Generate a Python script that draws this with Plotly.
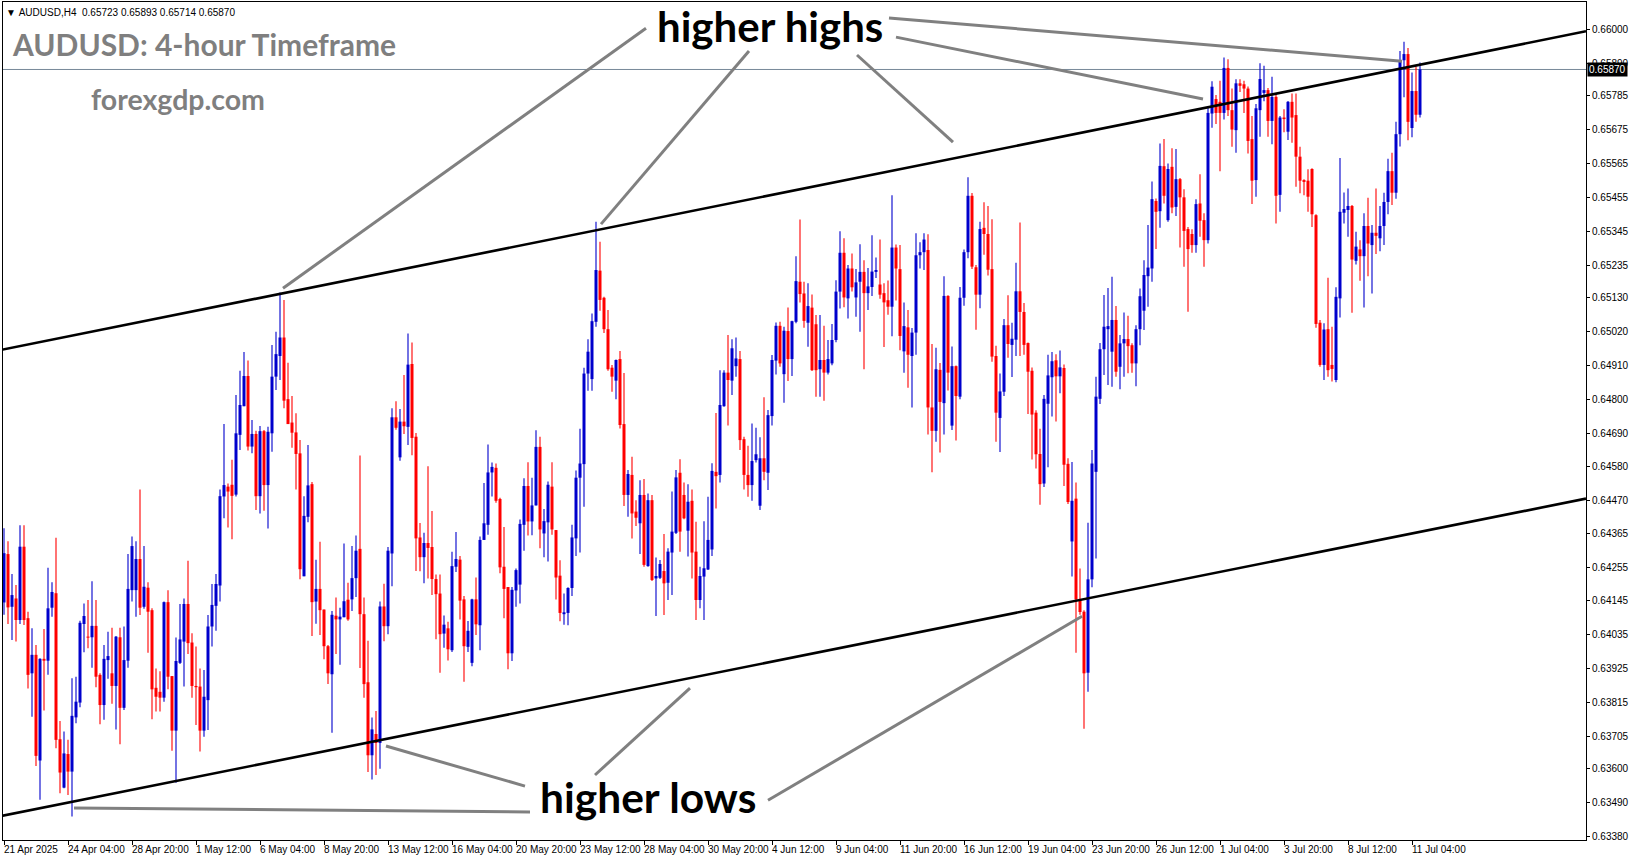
import plotly.graph_objects as go

# ---------------- data (AUDUSD H4 candles) ----------------
bar_open = [
    0.64140, 0.64297, 0.64126, 0.64153, 0.64083, 0.64321, 0.64089, 0.63910, 0.63970, 0.63627,
    0.63957, 0.63951, 0.64123, 0.64170, 0.63696, 0.63539, 0.63648, 0.63591, 0.63767, 0.63815,
    0.64070, 0.64029, 0.64027, 0.64064, 0.63905, 0.63807, 0.63953, 0.63910, 0.63869, 0.64027,
    0.63798, 0.63951, 0.64180, 0.64180, 0.64281, 0.64126, 0.64188, 0.64115, 0.63863, 0.63850,
    0.63831, 0.64141, 0.63901, 0.63724, 0.63944, 0.64013, 0.64135, 0.64010, 0.63869, 0.63867,
    0.63724, 0.63823, 0.64062, 0.64129, 0.64195, 0.64484, 0.64516, 0.64522, 0.64490, 0.64684,
    0.64777, 0.64875, 0.64646, 0.64687, 0.64485, 0.64696, 0.64521, 0.64689, 0.64873, 0.64940,
    0.65000, 0.64800, 0.64724, 0.64692, 0.64624, 0.64225, 0.64418, 0.64524, 0.64143, 0.64184,
    0.64117, 0.63998, 0.63907, 0.64097, 0.64085, 0.64092, 0.64149, 0.64150, 0.64219, 0.64314,
    0.64102, 0.63881, 0.63644, 0.63713, 0.63684, 0.64127, 0.64063, 0.64299, 0.64741, 0.64611,
    0.64727, 0.64710, 0.64914, 0.64678, 0.64351, 0.64287, 0.64333, 0.64320, 0.64216, 0.64169,
    0.64039, 0.64056, 0.63985, 0.64256, 0.64279, 0.64150, 0.63996, 0.63944, 0.64150, 0.64066,
    0.64343, 0.64392, 0.64562, 0.64577, 0.64476, 0.64256, 0.64190, 0.63975, 0.64179, 0.64198,
    0.64392, 0.64518, 0.64403, 0.64455, 0.64645, 0.64364, 0.64400, 0.64516, 0.64375, 0.64227,
    0.64102, 0.64106, 0.64187, 0.64348, 0.64545, 0.64589, 0.64883, 0.64865, 0.65051, 0.65217,
    0.65129, 0.65027, 0.64902, 0.64860, 0.64930, 0.64719, 0.64489, 0.64554, 0.64435, 0.64397,
    0.64489, 0.64258, 0.64472, 0.64218, 0.64220, 0.64242, 0.64204, 0.64302, 0.64366, 0.64561,
    0.64489, 0.64373, 0.64470, 0.64305, 0.64148, 0.64224, 0.64247, 0.64312, 0.64564, 0.64554,
    0.64777, 0.64886, 0.64860, 0.64907, 0.64930, 0.64670, 0.64554, 0.64521, 0.64602, 0.64454,
    0.64608, 0.64561, 0.64745, 0.64925, 0.65038, 0.64881, 0.65021, 0.64930, 0.65051, 0.65181,
    0.65143, 0.65048, 0.65097, 0.65043, 0.64897, 0.64927, 0.64886, 0.64916, 0.64992, 0.65149,
    0.65275, 0.65127, 0.65224, 0.65130, 0.65181, 0.65213, 0.65144, 0.65164, 0.65213, 0.65172,
    0.65144, 0.65121, 0.65100, 0.65292, 0.65222, 0.64955, 0.65033, 0.64940, 0.65016, 0.65267,
    0.65277, 0.65284, 0.64773, 0.64697, 0.64895, 0.64787, 0.65135, 0.64714, 0.64907, 0.64808,
    0.65129, 0.65277, 0.65460, 0.65228, 0.65139, 0.65356, 0.65336, 0.65222, 0.64940, 0.64739,
    0.64824, 0.65040, 0.64976, 0.64993, 0.65150, 0.65083, 0.64982, 0.64892, 0.64756, 0.64622,
    0.64526, 0.64785, 0.64871, 0.64926, 0.64874, 0.64901, 0.64590, 0.64338, 0.64477, 0.64147,
    0.64110, 0.63912, 0.64215, 0.64564, 0.64801, 0.64962, 0.65027, 0.64954, 0.65057, 0.64905,
    0.64981, 0.64995, 0.64975, 0.64916, 0.65027, 0.65087, 0.65199, 0.65224, 0.65443, 0.65410,
    0.65556, 0.65381, 0.65554, 0.65424, 0.65514, 0.65455, 0.65352, 0.65336, 0.65300, 0.65435,
    0.65381, 0.65316, 0.65727, 0.65774, 0.65765, 0.65729, 0.65875, 0.65738, 0.65673, 0.65825,
    0.65822, 0.65808, 0.65644, 0.65511, 0.65738, 0.65794, 0.65803, 0.65703, 0.65781, 0.65463,
    0.65714, 0.65668, 0.65765, 0.65722, 0.65587, 0.65511, 0.65509, 0.65547, 0.65397, 0.65048,
    0.64911, 0.65027, 0.64911, 0.64862, 0.65127, 0.65405, 0.65414, 0.65427, 0.65249, 0.65286,
    0.65264, 0.65362, 0.65300, 0.65340, 0.65322, 0.65362, 0.65440, 0.65540, 0.65470, 0.65660,
    0.65900, 0.65920, 0.65680, 0.65800, 0.65723,
]
bar_high = [
    0.64381, 0.64339, 0.64232, 0.64197, 0.64391, 0.64391, 0.64110, 0.64056, 0.64002, 0.63959,
    0.64054, 0.64253, 0.64206, 0.64350, 0.63755, 0.63721, 0.63694, 0.63894, 0.63899, 0.64081,
    0.64137, 0.64148, 0.64209, 0.64148, 0.63910, 0.64002, 0.64045, 0.64058, 0.64031, 0.64058,
    0.64062, 0.64297, 0.64354, 0.64339, 0.64507, 0.64323, 0.64206, 0.64121, 0.63926, 0.63917,
    0.64143, 0.64180, 0.63901, 0.64026, 0.64135, 0.64153, 0.64275, 0.64040, 0.63997, 0.63926,
    0.63921, 0.64099, 0.64200, 0.64232, 0.64507, 0.64719, 0.64526, 0.64603, 0.64813, 0.64892,
    0.64953, 0.64925, 0.64732, 0.64697, 0.64713, 0.64700, 0.64710, 0.64976, 0.65019, 0.65146,
    0.65122, 0.64918, 0.64810, 0.64754, 0.64667, 0.64485, 0.64651, 0.64531, 0.64279, 0.64337,
    0.64117, 0.64002, 0.64112, 0.64156, 0.64123, 0.64331, 0.64204, 0.64323, 0.64357, 0.64617,
    0.64156, 0.64016, 0.63767, 0.63788, 0.64143, 0.64201, 0.64320, 0.64770, 0.64793, 0.64768,
    0.64878, 0.65013, 0.64984, 0.64690, 0.64398, 0.64366, 0.64582, 0.64437, 0.64231, 0.64231,
    0.64098, 0.64077, 0.64305, 0.64369, 0.64291, 0.64161, 0.64080, 0.64152, 0.64221, 0.64354,
    0.64528, 0.64653, 0.64594, 0.64591, 0.64480, 0.64385, 0.64190, 0.64190, 0.64250, 0.64409,
    0.64543, 0.64595, 0.64545, 0.64699, 0.64678, 0.64443, 0.64533, 0.64595, 0.64375, 0.64277,
    0.64169, 0.64189, 0.64392, 0.64568, 0.64704, 0.64902, 0.64994, 0.65078, 0.65376, 0.65311,
    0.65132, 0.65089, 0.64911, 0.64929, 0.64956, 0.64885, 0.64570, 0.64613, 0.64472, 0.64537,
    0.64541, 0.64494, 0.64489, 0.64286, 0.64278, 0.64362, 0.64316, 0.64500, 0.64570, 0.64605,
    0.64529, 0.64524, 0.64507, 0.64402, 0.64256, 0.64404, 0.64483, 0.64592, 0.64755, 0.64894,
    0.64894, 0.65008, 0.64994, 0.65000, 0.64956, 0.64678, 0.64649, 0.64721, 0.64707, 0.64676,
    0.64806, 0.64765, 0.64943, 0.65049, 0.65051, 0.65035, 0.65097, 0.65054, 0.65264, 0.65383,
    0.65181, 0.65176, 0.65140, 0.65073, 0.65073, 0.65038, 0.64992, 0.65044, 0.65186, 0.65345,
    0.65322, 0.65235, 0.65273, 0.65222, 0.65303, 0.65251, 0.65226, 0.65332, 0.65260, 0.65318,
    0.65176, 0.65185, 0.65462, 0.65302, 0.65300, 0.65114, 0.65089, 0.65031, 0.65338, 0.65309,
    0.65338, 0.65335, 0.64979, 0.64967, 0.64917, 0.65199, 0.65137, 0.64971, 0.64909, 0.65164,
    0.65286, 0.65520, 0.65469, 0.65235, 0.65376, 0.65439, 0.65427, 0.65384, 0.64973, 0.64883,
    0.65060, 0.65137, 0.65048, 0.65243, 0.65373, 0.65112, 0.64984, 0.64903, 0.64764, 0.64704,
    0.64813, 0.64944, 0.64953, 0.64946, 0.64958, 0.64912, 0.64608, 0.64596, 0.64529, 0.64250,
    0.64115, 0.64399, 0.64635, 0.64873, 0.64982, 0.65138, 0.65161, 0.65197, 0.65102, 0.65008,
    0.65081, 0.65071, 0.64981, 0.65040, 0.65159, 0.65251, 0.65365, 0.65506, 0.65451, 0.65630,
    0.65644, 0.65565, 0.65614, 0.65612, 0.65518, 0.65481, 0.65359, 0.65351, 0.65449, 0.65530,
    0.65403, 0.65751, 0.65832, 0.65787, 0.65833, 0.65909, 0.65903, 0.65808, 0.65838, 0.65838,
    0.65833, 0.65815, 0.65719, 0.65758, 0.65890, 0.65882, 0.65810, 0.65846, 0.65792, 0.65719,
    0.65741, 0.65768, 0.65792, 0.65792, 0.65619, 0.65514, 0.65546, 0.65549, 0.65400, 0.65057,
    0.65046, 0.65194, 0.65035, 0.65163, 0.65583, 0.65471, 0.65484, 0.65430, 0.65343, 0.65316,
    0.65403, 0.65454, 0.65365, 0.65484, 0.65427, 0.65470, 0.65580, 0.65600, 0.65700, 0.65930,
    0.65960, 0.65940, 0.65860, 0.65880, 0.65893,
]
bar_low = [
    0.64100, 0.64070, 0.64018, 0.64013, 0.64070, 0.64067, 0.63861, 0.63769, 0.63609, 0.63500,
    0.63789, 0.63905, 0.64094, 0.63667, 0.63521, 0.63537, 0.63515, 0.63445, 0.63748, 0.63800,
    0.63978, 0.63991, 0.63928, 0.63865, 0.63745, 0.63759, 0.63892, 0.63811, 0.63728, 0.63680,
    0.63791, 0.63928, 0.64143, 0.64094, 0.64099, 0.64120, 0.63977, 0.63761, 0.63786, 0.63786,
    0.63818, 0.63858, 0.63659, 0.63555, 0.63940, 0.63867, 0.63973, 0.63831, 0.63742, 0.63656,
    0.63704, 0.63726, 0.63997, 0.64048, 0.64143, 0.64413, 0.64383, 0.64345, 0.64484, 0.64635,
    0.64777, 0.64633, 0.64624, 0.64440, 0.64429, 0.64438, 0.64380, 0.64629, 0.64830, 0.64862,
    0.64770, 0.64719, 0.64642, 0.64507, 0.64215, 0.64225, 0.64400, 0.64031, 0.64071, 0.64034,
    0.63956, 0.63875, 0.63717, 0.63973, 0.63938, 0.64092, 0.64081, 0.64112, 0.64158, 0.63927,
    0.63831, 0.63590, 0.63565, 0.63580, 0.63600, 0.64014, 0.64037, 0.64193, 0.64701, 0.64600,
    0.64687, 0.64651, 0.64618, 0.64242, 0.64241, 0.64202, 0.64218, 0.64164, 0.64021, 0.63912,
    0.63993, 0.63952, 0.63979, 0.64239, 0.64085, 0.63883, 0.63979, 0.63933, 0.64034, 0.63985,
    0.64343, 0.64360, 0.64484, 0.64464, 0.64235, 0.64089, 0.63923, 0.63950, 0.64126, 0.64137,
    0.64308, 0.64357, 0.64358, 0.64455, 0.64316, 0.64287, 0.64273, 0.64360, 0.64150, 0.64079,
    0.64068, 0.64066, 0.64161, 0.64291, 0.64302, 0.64451, 0.64827, 0.64827, 0.65035, 0.65087,
    0.65015, 0.64892, 0.64824, 0.64800, 0.64705, 0.64453, 0.64418, 0.64348, 0.64388, 0.64297,
    0.64256, 0.64256, 0.64210, 0.64096, 0.64216, 0.64099, 0.64148, 0.64164, 0.64362, 0.64305,
    0.64410, 0.64289, 0.64218, 0.64083, 0.64121, 0.64083, 0.64245, 0.64291, 0.64445, 0.64529,
    0.64775, 0.64714, 0.64813, 0.64873, 0.64635, 0.64507, 0.64483, 0.64470, 0.64594, 0.64440,
    0.64537, 0.64505, 0.64714, 0.64880, 0.64905, 0.64788, 0.64859, 0.64875, 0.65046, 0.65114,
    0.65032, 0.64970, 0.64891, 0.64808, 0.64808, 0.64795, 0.64880, 0.64910, 0.64985, 0.65094,
    0.65098, 0.65062, 0.65149, 0.65067, 0.65019, 0.64897, 0.65089, 0.65135, 0.65193, 0.65126,
    0.64969, 0.65074, 0.65004, 0.65120, 0.64959, 0.64886, 0.64837, 0.64773, 0.64944, 0.65224,
    0.65219, 0.64685, 0.64563, 0.64662, 0.64627, 0.64685, 0.64828, 0.64700, 0.64666, 0.64800,
    0.65103, 0.65257, 0.65222, 0.65025, 0.65095, 0.65269, 0.65201, 0.64921, 0.64662, 0.64628,
    0.64810, 0.64934, 0.64872, 0.64940, 0.64940, 0.64944, 0.64752, 0.64604, 0.64575, 0.64457,
    0.64515, 0.64579, 0.64744, 0.64727, 0.64819, 0.64518, 0.64460, 0.64224, 0.63977, 0.64100,
    0.63730, 0.63850, 0.64189, 0.64283, 0.64784, 0.64878, 0.64846, 0.64840, 0.64873, 0.64832,
    0.64873, 0.64884, 0.64886, 0.64842, 0.64975, 0.65024, 0.65100, 0.65181, 0.65287, 0.65356,
    0.65435, 0.65376, 0.65403, 0.65394, 0.65292, 0.65230, 0.65084, 0.65275, 0.65275, 0.65327,
    0.65230, 0.65305, 0.65681, 0.65693, 0.65540, 0.65708, 0.65719, 0.65619, 0.65600, 0.65797,
    0.65729, 0.65597, 0.65433, 0.65457, 0.65652, 0.65767, 0.65652, 0.65627, 0.65370, 0.65408,
    0.65666, 0.65641, 0.65632, 0.65489, 0.65468, 0.65462, 0.65408, 0.65359, 0.65032, 0.64905,
    0.64862, 0.64873, 0.64857, 0.64855, 0.65065, 0.65370, 0.65327, 0.65080, 0.65237, 0.65184,
    0.65097, 0.65199, 0.65143, 0.65271, 0.65280, 0.65300, 0.65400, 0.65430, 0.65450, 0.65620,
    0.65780, 0.65640, 0.65650, 0.65700, 0.65714,
]
bar_close = [
    0.64300, 0.64124, 0.64164, 0.64083, 0.64321, 0.64083, 0.63905, 0.63970, 0.63642, 0.63957,
    0.63951, 0.64121, 0.64174, 0.63694, 0.63588, 0.63650, 0.63591, 0.63772, 0.63818, 0.64074,
    0.64096, 0.64026, 0.64064, 0.63899, 0.63807, 0.63957, 0.63966, 0.63869, 0.64029, 0.63798,
    0.63953, 0.64184, 0.64323, 0.64281, 0.64123, 0.64191, 0.64110, 0.63858, 0.63834, 0.63831,
    0.64141, 0.63899, 0.63724, 0.63950, 0.64020, 0.64135, 0.64008, 0.63869, 0.63865, 0.63724,
    0.63834, 0.64062, 0.64132, 0.64200, 0.64485, 0.64521, 0.64500, 0.64486, 0.64689, 0.64781,
    0.64875, 0.64646, 0.64687, 0.64485, 0.64696, 0.64521, 0.64694, 0.64873, 0.64946, 0.65000,
    0.64795, 0.64719, 0.64691, 0.64622, 0.64248, 0.64421, 0.64520, 0.64141, 0.64184, 0.64115,
    0.63998, 0.63910, 0.64100, 0.64085, 0.64094, 0.64144, 0.64085, 0.64219, 0.64308, 0.64102,
    0.63875, 0.63644, 0.63728, 0.63684, 0.64127, 0.64063, 0.64308, 0.64741, 0.64707, 0.64727,
    0.64712, 0.64912, 0.64674, 0.64348, 0.64287, 0.64333, 0.64317, 0.64216, 0.64167, 0.64037,
    0.64068, 0.63988, 0.64258, 0.64281, 0.64146, 0.63998, 0.64048, 0.64150, 0.64069, 0.64343,
    0.64397, 0.64562, 0.64580, 0.64470, 0.64254, 0.64184, 0.63975, 0.64181, 0.64245, 0.64395,
    0.64518, 0.64403, 0.64455, 0.64645, 0.64377, 0.64404, 0.64522, 0.64377, 0.64221, 0.64106,
    0.64108, 0.64187, 0.64351, 0.64545, 0.64591, 0.64883, 0.64954, 0.65053, 0.65219, 0.65122,
    0.65027, 0.64897, 0.64873, 0.64927, 0.64716, 0.64489, 0.64557, 0.64429, 0.64415, 0.64489,
    0.64262, 0.64472, 0.64213, 0.64226, 0.64265, 0.64202, 0.64305, 0.64370, 0.64546, 0.64370,
    0.64413, 0.64467, 0.64302, 0.64148, 0.64226, 0.64251, 0.64343, 0.64567, 0.64550, 0.64781,
    0.64886, 0.64862, 0.64965, 0.64932, 0.64667, 0.64554, 0.64521, 0.64599, 0.64621, 0.64608,
    0.64564, 0.64748, 0.64927, 0.65038, 0.64916, 0.65022, 0.64930, 0.65053, 0.65183, 0.65141,
    0.65054, 0.65102, 0.64894, 0.64894, 0.64927, 0.64886, 0.64930, 0.64992, 0.65149, 0.65275,
    0.65130, 0.65224, 0.65163, 0.65179, 0.65213, 0.65144, 0.65166, 0.65214, 0.65219, 0.65139,
    0.65114, 0.65100, 0.65292, 0.65224, 0.65005, 0.65037, 0.64944, 0.65016, 0.65267, 0.65277,
    0.65318, 0.64773, 0.64697, 0.64897, 0.64791, 0.65135, 0.64886, 0.64907, 0.64810, 0.65129,
    0.65277, 0.65460, 0.65230, 0.65139, 0.65352, 0.65336, 0.65220, 0.64938, 0.64756, 0.64825,
    0.65040, 0.64979, 0.64996, 0.65150, 0.65083, 0.64976, 0.64889, 0.64750, 0.64621, 0.64524,
    0.64801, 0.64877, 0.64923, 0.64874, 0.64903, 0.64587, 0.64466, 0.64470, 0.64150, 0.64109,
    0.63910, 0.64215, 0.64591, 0.64808, 0.64962, 0.65035, 0.65037, 0.65057, 0.64889, 0.64981,
    0.64995, 0.64972, 0.64916, 0.65027, 0.65134, 0.65203, 0.65227, 0.65449, 0.65408, 0.65557,
    0.65460, 0.65547, 0.65422, 0.65514, 0.65455, 0.65346, 0.65287, 0.65300, 0.65433, 0.65379,
    0.65316, 0.65729, 0.65814, 0.65729, 0.65729, 0.65875, 0.65738, 0.65675, 0.65825, 0.65817,
    0.65808, 0.65638, 0.65509, 0.65744, 0.65839, 0.65803, 0.65703, 0.65781, 0.65460, 0.65714,
    0.65709, 0.65765, 0.65714, 0.65587, 0.65509, 0.65505, 0.65457, 0.65400, 0.65044, 0.64911,
    0.65026, 0.64894, 0.64898, 0.65132, 0.65408, 0.65417, 0.65427, 0.65253, 0.65295, 0.65264,
    0.65362, 0.65305, 0.65340, 0.65330, 0.65362, 0.65440, 0.65540, 0.65470, 0.65660, 0.65900,
    0.65920, 0.65700, 0.65800, 0.65723, 0.65870,
]
bar_index = list(range(len(bar_open)))

time_tick_bars = list(range(0, 353, 16))
time_tick_labels = [
    "21 Apr 2025", "24 Apr 04:00", "28 Apr 20:00", "1 May 12:00", "6 May 04:00",
    "8 May 20:00", "13 May 12:00", "16 May 04:00", "20 May 20:00", "23 May 12:00",
    "28 May 04:00", "30 May 20:00", "4 Jun 12:00", "9 Jun 04:00", "11 Jun 20:00",
    "16 Jun 12:00", "19 Jun 04:00", "23 Jun 20:00", "26 Jun 12:00", "1 Jul 04:00",
    "3 Jul 20:00", "8 Jul 12:00", "11 Jul 04:00",
]
price_tick_labels = [
    "0.66000", "0.65890", "0.65785", "0.65675", "0.65565", "0.65455", "0.65345",
    "0.65235", "0.65130", "0.65020", "0.64910", "0.64800", "0.64690", "0.64580",
    "0.64470", "0.64365", "0.64255", "0.64145", "0.64035", "0.63925", "0.63815",
    "0.63705", "0.63600", "0.63490", "0.63380",
]
price_tick_values = [float(t) for t in price_tick_labels]

# analyst's channel lines (bar index, price at the two ends)
upper_channel_bar = [-1.0, 395.5]
upper_channel_price = [0.64959, 0.65994]
lower_channel_bar = [-1.0, 395.5]
lower_channel_price = [0.63446, 0.64477]
last_price = 0.65870
header_text = "AUDUSD,H4\u00a0\u00a00.65723 0.65893 0.65714 0.65870"

# grey pointer lines: (bar0, price0, bar1, price1)
pointer_lines = [
    (160.5, 0.66004, 69.75, 0.65160),
    (186.25, 0.65930, 149.25, 0.65368),
    (213.25, 0.65917, 237.25, 0.65634),
    (221.25, 0.66037, 349.5, 0.65897),
    (223.0, 0.65975, 299.75, 0.65774),
    (17.5, 0.63473, 131.5, 0.63460),
    (95.5, 0.63674, 130.25, 0.63544),
    (147.75, 0.63580, 171.5, 0.63862),
    (191.0, 0.63498, 269.5, 0.64095),
]

# ---------------- layout geometry ----------------
W, H = 1631, 861
PL, PR, PT, PB = 3, 1586, 2, 840          # plot area in pixels
X_RANGE = [-0.25, 395.5]
Y_RANGE = [0.63369, 0.66089]
BULL = "#0000cc"
BEAR = "#ff0000"
SMALL = "Liberation Sans, DejaVu Sans"


def px_x(px):
    return (px - PL) / (PR - PL)


def px_y(py):
    return (PB - py) / (PB - PT)


one_px_price = (Y_RANGE[1] - Y_RANGE[0]) / (PB - PT)

body_base, body_len, body_col = [], [], []
for o, c in zip(bar_open, bar_close):
    lo, hi = min(o, c), max(o, c)
    if hi - lo < one_px_price:
        mid = (hi + lo) / 2
        lo, hi = mid - one_px_price / 2, mid + one_px_price / 2
    body_base.append(lo)
    body_len.append(hi - lo)
    body_col.append(BULL if c >= o else BEAR)


def wicks(bull):
    xs, ys = [], []
    for i, o, h, l, c in zip(bar_index, bar_open, bar_high, bar_low, bar_close):
        if (c >= o) == bull:
            xs += [i, i, None]
            ys += [l, h, None]
    return xs, ys


fig = go.Figure()
for bull, col in ((True, BULL), (False, BEAR)):
    wx, wy = wicks(bull)
    fig.add_trace(go.Scatter(x=wx, y=wy, mode="lines", line=dict(color=col, width=1.1),
                             hoverinfo="skip", showlegend=False))
fig.add_trace(go.Bar(x=bar_index, y=body_len, base=body_base, width=0.75,
                     marker=dict(color=body_col, line=dict(width=0)),
                     hoverinfo="skip", showlegend=False))
for bx, by in ((upper_channel_bar, upper_channel_price), (lower_channel_bar, lower_channel_price)):
    fig.add_trace(go.Scatter(x=bx, y=by, mode="lines", line=dict(color="black", width=2.6),
                             hoverinfo="skip", showlegend=False))

shapes = [dict(type="line", xref="paper", yref="y", x0=0, x1=1, y0=last_price, y1=last_price,
               line=dict(color="#778899", width=1), layer="below")]
for x0, y0, x1, y1 in pointer_lines:
    shapes.append(dict(type="line", xref="x", yref="y", x0=x0, y0=y0, x1=x1, y1=y1,
                       line=dict(color="#808080", width=3), layer="above"))

BIG = "Lato, Carlito, 'Open Sans', sans-serif"
annotations = [
    dict(text="\u25bc\u00a0" + header_text, xref="paper", yref="paper", x=px_x(4), y=px_y(12),
         xanchor="left", yanchor="middle", showarrow=False,
         font=dict(family=SMALL, size=10, color="black")),
    dict(text="<b>AUDUSD: 4-hour Timeframe</b>", xref="paper", yref="paper", x=px_x(10), y=px_y(44),
         xanchor="left", yanchor="middle", showarrow=False,
         font=dict(family=BIG, size=30, color="#7f7f7f")),
    dict(text="<b>forexgdp.com</b>", xref="paper", yref="paper", x=px_x(89), y=px_y(99),
         xanchor="left", yanchor="middle", showarrow=False,
         font=dict(family=BIG, size=28.5, color="#7f7f7f")),
    dict(text="<b>higher highs</b>", xref="paper", yref="paper", x=px_x(770), y=px_y(26),
         xanchor="center", yanchor="middle", showarrow=False,
         font=dict(family=BIG, size=42, color="black")),
    dict(text="<b>higher lows</b>", xref="paper", yref="paper", x=px_x(648), y=px_y(796),
         xanchor="center", yanchor="middle", showarrow=False,
         font=dict(family=BIG, size=42.5, color="black")),
    dict(text="0.65870", xref="paper", yref="y", x=1.0, y=last_price, xanchor="left",
         yanchor="middle", showarrow=False, bgcolor="black", borderpad=1, xshift=1,
         font=dict(family=SMALL, size=10, color="white")),
]
# time labels, left-aligned at their tick as in MetaTrader
for tb, tl in zip(time_tick_bars, time_tick_labels):
    annotations.append(dict(text=tl, xref="x", yref="paper", x=tb, y=px_y(850),
                            xanchor="left", yanchor="middle", showarrow=False, xshift=-2,
                            font=dict(family=SMALL, size=10, color="black")))

fig.update_layout(
    width=W, height=H,
    margin=dict(l=PL, r=W - PR, t=PT, b=H - PB, pad=0, autoexpand=False),
    paper_bgcolor="white", plot_bgcolor="white",
    showlegend=False, barmode="overlay",
    shapes=shapes, annotations=annotations,
    xaxis=dict(range=X_RANGE, showgrid=False, zeroline=False, showline=True, mirror=True,
               linecolor="black", linewidth=1, ticks="outside", ticklen=4, tickcolor="black",
               tickvals=time_tick_bars, showticklabels=False,
               automargin=False, fixedrange=True),
    yaxis=dict(range=Y_RANGE, side="right", showgrid=False, zeroline=False, showline=True,
               mirror=True, linecolor="black", linewidth=1, ticks="outside", ticklen=3,
               tickcolor="black", tickvals=price_tick_values, ticktext=price_tick_labels,
               tickfont=dict(family=SMALL, size=10, color="black"),
               automargin=False, fixedrange=True),
)

fig.write_html(
    "out.html",
    config={"displayModeBar": False, "staticPlot": True},
    post_script="document.body.style.margin='0px';document.body.style.overflow='hidden';",
)
